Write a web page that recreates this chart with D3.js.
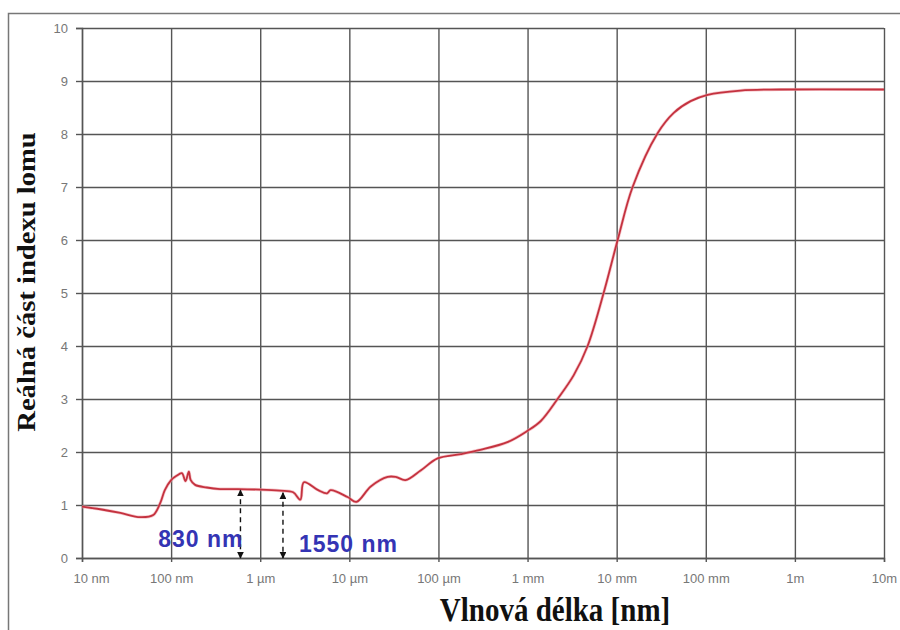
<!DOCTYPE html>
<html><head><meta charset="utf-8">
<script src="https://cdn.jsdelivr.net/npm/d3@7"></script>
<style>body{margin:0;background:#fff}svg{display:block}</style>
</head><body>
<script>
// wavelength in nm, real part of refractive index
const wavelengths = [10, 16, 27, 45, 63, 76, 85, 100, 115, 132, 145, 158, 166, 186, 251, 355, 562, 1000, 1660, 2340, 2820, 3090, 4470, 5620, 6170, 9550, 12000, 17400, 26900, 33100, 42700, 63100, 97700, 178000, 295000, 603000, 1000000, 1400000, 2170000, 3300000, 4720000, 7140000, 10260000, 15100000, 28900000, 43700000, 67600000, 105000000, 245000000, 692000000, 10000000000];
const nReal =      [0.97, 0.92, 0.85, 0.77, 0.81, 1.05, 1.28, 1.47, 1.55, 1.60, 1.45, 1.63, 1.47, 1.38, 1.33, 1.30, 1.30, 1.29, 1.27, 1.24, 1.10, 1.43, 1.28, 1.22, 1.28, 1.15, 1.06, 1.35, 1.53, 1.53, 1.47, 1.65, 1.88, 1.96, 2.04, 2.19, 2.40, 2.58, 3.00, 3.45, 4.00, 5.00, 6.00, 7.00, 8.02, 8.40, 8.62, 8.74, 8.82, 8.84, 8.84];
const xTickValues = [1e1, 1e2, 1e3, 1e4, 1e5, 1e6, 1e7, 1e8, 1e9, 1e10];
const xTickLabels = ["10 nm", "100 nm", "1 µm", "10 µm", "100 µm", "1 mm", "10 mm", "100 mm", "1m", "10m"];
const yTickValues = [0, 1, 2, 3, 4, 5, 6, 7, 8, 9, 10];
const markerLabels = ["830 nm", "1550 nm"];
const markerWavelengths = [600, 1800];
const markerTops = [1.28, 1.23];
const xTitle = "Vlnová délka [nm]";
const yTitle = "Reálná část indexu lomu";

const W = 900, H = 630;
const L = 82, R = 884, T = 28, B = 558;
const svg = d3.select("body").append("svg").attr("width", W).attr("height", H);

// outer frame (left & top edges visible)
svg.append("path").attr("d", `M8.5,${H} V13.5 H${W}`).attr("fill","none").attr("stroke","#777").attr("stroke-width",1.5);

const x = d3.scaleLog().domain([1e1, 1e10]).range([L, R]);
const y = d3.scaleLinear().domain([0, 10]).range([B, T]);

// grid
const gx = svg.append("g").attr("transform", `translate(0,${B})`)
  .call(d3.axisBottom(x).tickValues(xTickValues).tickSize(-(B - T)).tickFormat(""));
gx.select(".domain").remove();
gx.selectAll("line").attr("stroke","#555").attr("stroke-width",1.4);
const gy = svg.append("g").attr("transform", `translate(${L},0)`)
  .call(d3.axisLeft(y).tickValues(yTickValues).tickSize(-(R - L)).tickFormat(""));
gy.select(".domain").remove();
gy.selectAll("line").attr("stroke","#555").attr("stroke-width",1.4);

// axes with short ticks and labels
const ax = svg.append("g").attr("transform", `translate(0,${B})`)
  .call(d3.axisBottom(x).tickValues(xTickValues).tickSize(4).tickPadding(12)
    .tickFormat((d, i) => xTickLabels[i]));
ax.select(".domain").attr("stroke","#555").attr("stroke-width",1.4);
ax.selectAll("line").attr("stroke","#555").attr("stroke-width",1.4);
ax.selectAll("text").attr("fill","#777").attr("font-family","Liberation Sans, Arial, sans-serif").attr("font-size",13)
  .attr("dx", (d, i) => i === 0 ? 9 : 0);

const ay = svg.append("g").attr("transform", `translate(${L},0)`)
  .call(d3.axisLeft(y).tickValues(yTickValues).tickSize(6).tickPadding(8));
ay.select(".domain").attr("stroke","#555").attr("stroke-width",1.4);
ay.selectAll("line").attr("stroke","#555").attr("stroke-width",1.4);
ay.selectAll("text").attr("fill","#777").attr("font-family","Liberation Sans, Arial, sans-serif").attr("font-size",13);

// curve
const data = wavelengths.map((w, i) => [w, nReal[i]]);
const line = d3.line().x(d => x(d[0])).y(d => y(d[1])).curve(d3.curveCatmullRom.alpha(0.5));
svg.append("path").datum(data).attr("d", line).attr("fill","none")
  .attr("stroke","#f0a0a8").attr("stroke-width",3.2).attr("opacity",0.6);
svg.append("path").datum(data).attr("d", line).attr("fill","none")
  .attr("stroke","#c4323f").attr("stroke-width",1.8);

// arrow markers
const defs = svg.append("defs");
defs.append("marker").attr("id","ah").attr("viewBox","0 0 10 10").attr("refX",9).attr("refY",5)
  .attr("markerWidth",7).attr("markerHeight",7).attr("markerUnits","userSpaceOnUse").attr("orient","auto-start-reverse")
  .append("path").attr("d","M0,0 L10,5 L0,10 z").attr("fill","#111");

markerWavelengths.forEach((w, i) => {
  svg.append("line").attr("x1", x(w)).attr("x2", x(w)).attr("y1", y(markerTops[i])).attr("y2", y(0))
    .attr("stroke","#111").attr("stroke-width",1.4).attr("stroke-dasharray","5,4")
    .attr("marker-start","url(#ah)").attr("marker-end","url(#ah)");
});
svg.append("text").attr("x", x(markerWavelengths[0]) + 3).attr("y", 547).attr("text-anchor","end")
  .attr("font-family","Liberation Sans, Arial, sans-serif").attr("font-weight","bold").attr("font-size",23)
  .attr("letter-spacing",1).attr("fill","#3434b4").text(markerLabels[0]);
svg.append("text").attr("x", x(markerWavelengths[1]) + 16).attr("y", 552).attr("text-anchor","start")
  .attr("font-family","Liberation Sans, Arial, sans-serif").attr("font-weight","bold").attr("font-size",23)
  .attr("letter-spacing",1).attr("fill","#3434b4").text(markerLabels[1]);

// titles
svg.append("text").attr("transform","translate(555,621) scale(1,1.15)").attr("text-anchor","middle")
  .attr("font-family","Liberation Serif, Times New Roman, serif").attr("font-weight","bold").attr("font-size",29)
  .attr("fill","#111").text(xTitle);
svg.append("text").attr("transform","translate(35,282) rotate(-90) scale(1.1,1)").attr("text-anchor","middle")
  .attr("font-family","Liberation Serif, Times New Roman, serif").attr("font-weight","bold").attr("font-size",26)
  .attr("fill","#111").text(yTitle);
</script>
</body></html>
